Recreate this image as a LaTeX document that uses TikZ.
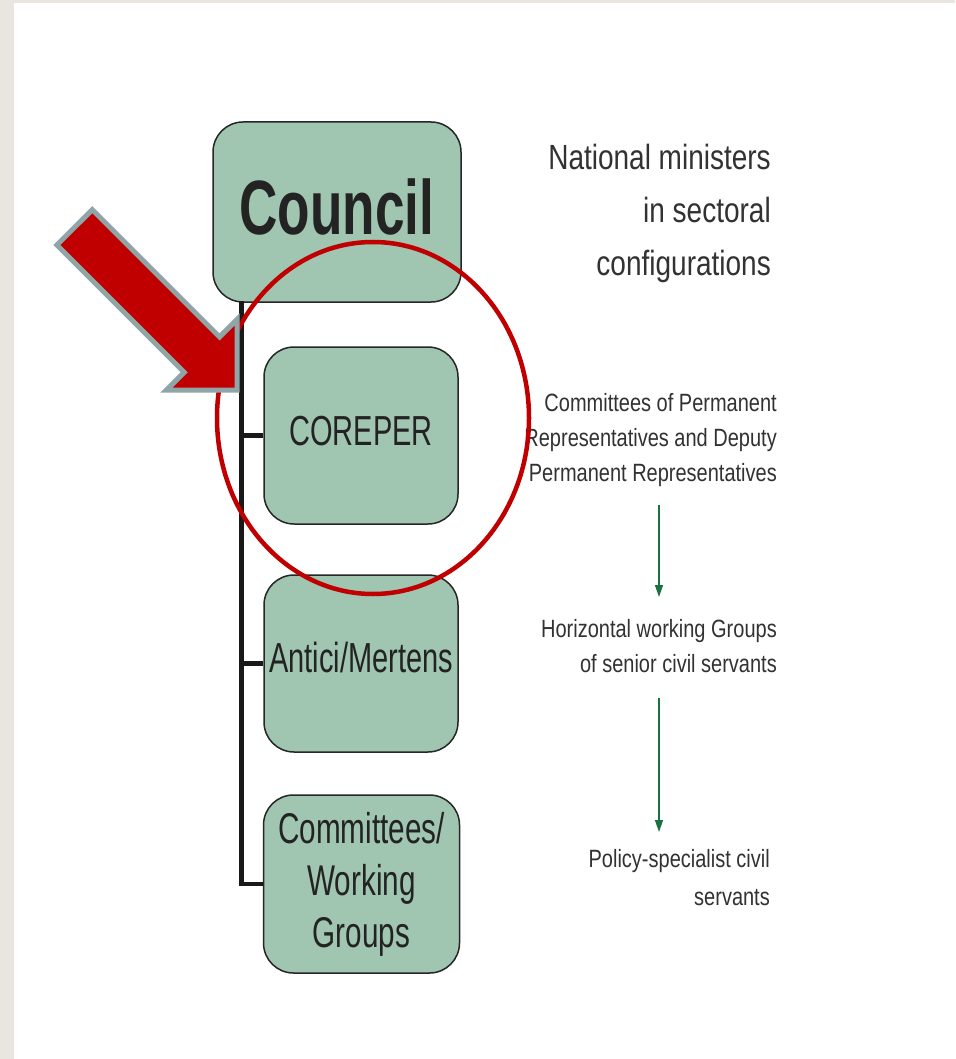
\documentclass[tikz,border=0pt]{standalone}
\usepackage{fontspec}
\setmainfont{Liberation Sans}
\newfontfamily\boxfont[FakeStretch=0.69]{Liberation Sans}
\newfontfamily\sidefont[FakeStretch=0.8]{Liberation Sans}
\usetikzlibrary{arrows.meta}
\definecolor{boxgreen}{RGB}{160,197,177}
\definecolor{bgray}{RGB}{233,229,225}
\definecolor{arrowred}{RGB}{192,0,0}
\definecolor{arrowedge}{RGB}{143,165,168}
\definecolor{flowgreen}{RGB}{25,115,65}
\definecolor{boxtext}{RGB}{35,35,35}
\definecolor{sidetext}{RGB}{50,50,50}
\begin{document}
\begin{tikzpicture}[x=1pt,y=-1pt,
  orgbox/.style={draw=black!85, line width=1.5pt, fill=boxgreen, rounded corners=30pt,
    inner sep=0pt, text=boxtext, align=center},
  sidetxt/.style={anchor=base east, inner sep=0pt, align=right, text=sidetext},
  spine/.style={line width=4.5pt, draw=black!90},
  flow/.style={draw=flowgreen, line width=1.4pt, -{Triangle[length=12pt,width=8pt]}}
]
% background
\fill[bgray] (0,0) rectangle (955,1059);
\fill[white] (14,3) rectangle (955,1059);
\useasboundingbox (0,0) rectangle (955,1059);

% boxes
\node[orgbox, minimum width=248pt, minimum height=180pt, text height=44pt, text depth=0pt,
  font=\boxfont\bfseries\fontsize{77}{80}\selectfont] (council) at (337,212) {Council};
\node[orgbox, minimum width=194pt, minimum height=177pt, text height=19pt, text depth=0pt,
  font=\boxfont\fontsize{42}{50}\selectfont] (corep) at (361,435.5) {COREPER};
\node[orgbox, minimum width=194pt, minimum height=177pt, text height=17pt, text depth=0pt,
  font=\boxfont\fontsize{42}{50}\selectfont] (antici) at (361,663.5) {Antici/Mertens};
\node[orgbox, minimum width=196pt, minimum height=178pt,
  font=\boxfont\fontsize{43}{52}\selectfont] (cwg) at (361.5,884)
  {\raisebox{-3pt}{Committees/}\\\raisebox{-3pt}{Working}\\\raisebox{-3pt}{Groups}};

% spine and ticks
\coordinate (sptop) at (241.5,301);
\draw[spine] (sptop) |- (cwg.west);
\draw[spine] (sptop |- corep.west) -- (corep.west);
\draw[spine] (sptop |- antici.west) -- (antici.west);

% side texts (anchored at the baseline of the last line)
\node[sidetxt, font=\sidefont\fontsize{35}{52.5}\selectfont] (natl) at (771,275)
  {National ministers\\in sectoral\\configurations};
\node[sidetxt, font=\sidefont\fontsize{25}{35}\selectfont] (corept) at (777,481)
  {Committees of Permanent\\Representatives and Deputy\\Permanent Representatives};
\node[sidetxt, font=\sidefont\fontsize{25}{35}\selectfont] (hort) at (777,672)
  {Horizontal working Groups\\of senior civil servants};
\node[sidetxt, font=\sidefont\fontsize{25}{38}\selectfont] (polt) at (770,905)
  {Policy-specialist civil\\servants};

% flow arrows
\coordinate (f1s) at (659,505);
\coordinate (f1e) at (659,597);
\coordinate (f2s) at (659,698);
\coordinate (f2e) at (659,832);
\draw[flow] (f1s) -- (f1e);
\draw[flow] (f2s) -- (f2e);

% red ellipse
\draw[arrowred, line width=4.5pt] (373,418) ellipse [x radius=156pt, y radius=176pt];

% block arrow
\draw[fill=arrowred, draw=arrowedge, line width=5pt, line join=miter]
  (92.3,209.7) -- (219.6,336.9) -- (237.2,319.3) -- (237.2,390.0)
  -- (166.5,390.0) -- (184.2,372.3) -- (56.9,245.0) -- cycle;
\end{tikzpicture}
\end{document}
